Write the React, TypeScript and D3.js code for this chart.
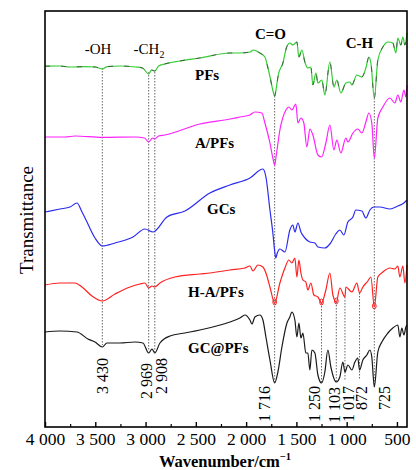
import React, { useEffect, useRef } from "react";
import * as d3 from "d3";

// [wavenumber (cm-1), transmittance (a.u., stacked)]
const pfs: [number, number][] = [
  [4000, 90.2], [3850, 90.25], [3750, 90], [3600, 90.1], [3500, 90], [3430, 89.5], [3380, 90.1],
  [3250, 90.25], [3100, 90], [3030, 89.75], [2969, 88.25], [2940, 89.25], [2908, 89], [2870, 90.25],
  [2810, 90.75], [2660, 91.5], [2460, 92.25], [2160, 93.5], [2060, 93.5], [1960, 93.75], [1930, 94.25],
  [1863, 93.5], [1813, 92.5], [1790, 90.5], [1760, 87.25], [1735, 84.25], [1716, 82.75], [1700, 84.75],
  [1680, 88], [1634, 91], [1600, 94.75], [1565, 96], [1535, 95.5], [1495, 96.25], [1475, 92.5],
  [1445, 94.25], [1416, 91.25], [1386, 89.75], [1356, 90], [1336, 85.5], [1306, 88.5], [1286, 86],
  [1247, 86.75], [1217, 83], [1167, 91.25], [1127, 85], [1098, 86.75], [1058, 83.5], [1008, 86],
  [968, 86.25], [948, 85.5], [899, 88], [849, 87.5], [809, 89.75], [779, 92.5], [759, 91],
  [725, 82.25], [690, 91.75], [640, 95], [590, 96.25], [541, 96], [511, 93.5], [491, 97.25],
  [461, 95.5], [441, 97.5], [421, 95.5], [400, 98.5],
];

const aPfs: [number, number][] = [
  [4000, 72.5], [3800, 72.5], [3700, 72.75], [3430, 72.4], [3100, 72.5], [3010, 72.25], [2969, 71.25],
  [2930, 72.25], [2908, 72], [2870, 72.75], [2810, 73], [2460, 75.75], [2160, 77], [2062, 77.5],
  [1962, 78], [1913, 78.75], [1843, 78.5], [1813, 76], [1763, 71], [1734, 67.25], [1716, 65.5],
  [1700, 68], [1664, 74.25], [1604, 79.25], [1575, 80], [1545, 79.25], [1505, 80.75], [1485, 76],
  [1455, 77.25], [1426, 76], [1396, 70], [1366, 74.5], [1336, 73], [1286, 68], [1250, 67.5],
  [1207, 71], [1167, 75.5], [1127, 69.25], [1098, 71.75], [1058, 68.5], [1008, 72.25], [988, 71.25],
  [938, 73.5], [889, 74.5], [849, 73.5], [809, 76.25], [779, 78.5], [750, 76], [725, 67.25],
  [690, 77.25], [640, 80], [570, 82.25], [521, 81], [491, 83], [461, 81.25], [431, 84.25],
  [411, 82.5], [400, 85.5],
];

const gcs: [number, number][] = [
  [4000, 53.75], [3851, 54.5], [3751, 55], [3682, 56], [3632, 53.75], [3592, 51.75], [3503, 47.25],
  [3430, 45.25], [3304, 46], [3125, 47.5], [3006, 49.5], [2926, 48.75], [2787, 52.5], [2608, 54],
  [2360, 58.5], [2161, 60.5], [1962, 62.25], [1833, 64.5], [1803, 62.5], [1763, 54.25], [1734, 48.5],
  [1716, 44], [1705, 42.25], [1690, 43.5], [1664, 44.5], [1614, 43.75], [1565, 49.25], [1535, 50.5],
  [1515, 48.75], [1485, 51], [1455, 48.75], [1416, 47.25], [1366, 46.25], [1316, 46], [1286, 45],
  [1217, 44.75], [1167, 45.75], [1108, 48.25], [1068, 49.25], [1028, 48], [988, 51.25], [938, 52.5],
  [909, 54.25], [849, 54], [809, 52.25], [769, 54.25], [730, 55], [670, 55], [570, 54.5],
  [491, 55.25], [431, 56], [400, 56.75],
];

const haPfs: [number, number][] = [
  [4000, 35.5], [3851, 36], [3702, 36], [3632, 35], [3533, 32.75], [3430, 31.5], [3304, 33.25],
  [3155, 35], [3056, 35.75], [3006, 36], [2969, 34.75], [2936, 35.25], [2908, 35], [2857, 36],
  [2708, 37.5], [2459, 38.25], [2360, 38.5], [2161, 39.25], [2012, 39.75], [1962, 40.25], [1932, 39],
  [1883, 40.5], [1833, 40], [1803, 38.5], [1763, 35], [1716, 31], [1664, 36], [1614, 39.75],
  [1575, 41.75], [1545, 41], [1515, 42.25], [1495, 37.5], [1475, 41.75], [1455, 38.5], [1435, 36.75],
  [1406, 36.25], [1386, 34.25], [1356, 36], [1326, 33], [1286, 32.5], [1250, 31], [1207, 34.25],
  [1167, 38.5], [1137, 33], [1103, 31.25], [1068, 34.75], [1017, 32.5], [1008, 35], [948, 33.75],
  [899, 36], [872, 33.5], [839, 35], [789, 36.5], [759, 37.5], [725, 30], [690, 37.5], [640, 38.75],
  [570, 39.75], [521, 39.5], [491, 40.25], [471, 37.5], [441, 40.25], [421, 36], [400, 40.5],
];

const gcPfs: [number, number][] = [
  [4000, 23.75], [3851, 24], [3682, 23.75], [3573, 22], [3503, 21.25], [3430, 20], [3384, 21],
  [3255, 21], [3105, 21.25], [3026, 21], [2969, 18.5], [2936, 19.5], [2908, 18.5], [2857, 21],
  [2757, 22.75], [2608, 23.5], [2459, 24.25], [2161, 26.25], [2062, 27.25], [2012, 28], [1962, 26.75],
  [1942, 25.75], [1913, 27.5], [1863, 28], [1833, 26.75], [1803, 22.5], [1763, 16.75], [1716, 11],
  [1684, 13.75], [1644, 20], [1594, 26], [1565, 27.5], [1545, 28.75], [1515, 26.75], [1495, 22.5],
  [1475, 26], [1455, 22.25], [1435, 23.5], [1406, 18.5], [1386, 18.5], [1366, 14.25], [1346, 19.25],
  [1316, 18.5], [1286, 13], [1250, 11], [1217, 13.75], [1187, 19.25], [1157, 15], [1103, 11.25],
  [1068, 12.5], [1038, 16.25], [1017, 13.75], [988, 15.5], [948, 14.25], [918, 16.25], [889, 17.25],
  [872, 14.25], [839, 16.75], [799, 18], [769, 19.25], [750, 17.5], [725, 10], [690, 18.75],
  [650, 21.25], [590, 23.5], [541, 24.75], [491, 25.5], [471, 22.5], [451, 24.75], [431, 23],
  [411, 25], [400, 25.5],
];

const wnTicks = [4000, 3500, 3000, 2500, 2000, 1500, 1000, 500];
const wnMinorTicks = [3750, 3250, 2750, 2250, 1750, 1250, 750];

// marked peaks and the span of the dotted guide (transmittance units)
const peaks = [3430, 2969, 2908, 1716, 1250, 1103, 1017, 872, 725];
const guideTop = [89.75, 88.75, 88.75, 82.75, 31, 31.25, 32.5, 33.5, 82.25];
const guideBottom = [20.5, 19.25, 18.5, 11, 11, 11.25, 11.75, 12, 10];
const circledPeaks = [1716, 1250, 1103, 725];

const groupLabels = ["-OH", "-CH", "C=O", "C-H"];
const sampleNames = ["PFs", "A/PFs", "GCs", "H-A/PFs", "GC@PFs"];

const fmt = (d: number) =>
  d >= 1000 ? `${Math.floor(d / 1000)} ${String(d % 1000).padStart(3, "0")}` : `${d}`;

export default function App() {
  const ref = useRef<SVGSVGElement>(null);

  useEffect(() => {
    document.body.style.margin = "0";
    const width = 416, height = 470;
    const margin = { top: 11, left: 45, right: 9, bottom: 43 };
    const svg = d3.select(ref.current);
    svg.selectAll("*").remove();

    const x = d3.scaleLinear().domain([4000, 400]).range([margin.left, width - margin.right]);
    const y = d3.scaleLinear().domain([0, 104]).range([height - margin.bottom, margin.top]);
    const serif = "'Liberation Serif', 'Times New Roman', serif";

    // dotted guides
    peaks.forEach((p, i) => {
      svg.append("line")
        .attr("x1", x(p)).attr("x2", x(p))
        .attr("y1", y(guideTop[i])).attr("y2", y(guideBottom[i]))
        .attr("stroke", "#555").attr("stroke-width", 0.9)
        .attr("stroke-dasharray", "1.5,1.5");
    });

    const line = d3.line<[number, number]>()
      .x(d => x(d[0])).y(d => y(d[1]))
      .curve(d3.curveMonotoneX);

    const traces = [
      { data: pfs, color: "#33cc33" },
      { data: aPfs, color: "#ff22ff" },
      { data: gcs, color: "#2b2bef" },
      { data: haPfs, color: "#ff2020" },
      { data: gcPfs, color: "#1a1a1a" },
    ];
    traces.forEach(t => {
      svg.append("path").attr("d", line(t.data)).attr("fill", "none")
        .attr("stroke", t.color).attr("stroke-width", 1.2);
    });
    // grey overlay on PFs
    svg.append("path").attr("d", line(pfs)).attr("fill", "none")
      .attr("stroke", "#444").attr("stroke-width", 1)
      .attr("stroke-dasharray", "5,11").attr("opacity", 0.8);

    // red circles on H-A/PFs
    circledPeaks.forEach(p => {
      const pt = haPfs.find(d => d[0] === p)!;
      svg.append("ellipse")
        .attr("cx", x(p)).attr("cy", y(pt[1]) - 1)
        .attr("rx", 1.8).attr("ry", 3)
        .attr("fill", "none").attr("stroke", "#ff2020").attr("stroke-width", 1);
    });

    // frame
    svg.append("rect")
      .attr("x", margin.left).attr("y", margin.top)
      .attr("width", width - margin.left - margin.right)
      .attr("height", height - margin.top - margin.bottom)
      .attr("fill", "none").attr("stroke", "#000").attr("stroke-width", 1.6);

    svg.append("g")
      .attr("transform", `translate(0,${height - margin.bottom})`)
      .call(d3.axisBottom(x).tickValues(wnTicks).tickSize(-5).tickFormat(d => fmt(+d)))
      .call(g => g.select(".domain").remove())
      .call(g => g.selectAll(".tick line").attr("stroke-width", 1.4))
      .call(g => g.selectAll(".tick text")
        .attr("y", 18).attr("dy", 0)
        .attr("font-size", 17.5).attr("font-family", serif).attr("fill", "#000"));
    svg.append("g")
      .attr("transform", `translate(0,${height - margin.bottom})`)
      .call(d3.axisBottom(x).tickValues(wnMinorTicks).tickSize(-3).tickFormat(() => ""))
      .call(g => g.select(".domain").remove())
      .call(g => g.selectAll(".tick line").attr("stroke-width", 1.2));

    // axis titles
    const xt = svg.append("text")
      .attr("x", 225).attr("y", 467)
      .attr("text-anchor", "middle").attr("font-family", serif)
      .attr("font-size", 16.5).attr("font-weight", "bold").text("Wavenumber/cm");
    xt.append("tspan").attr("dy", -7).attr("font-size", 10.5).text("−1");

    svg.append("text")
      .attr("transform", "translate(33,220) rotate(-90)")
      .attr("text-anchor", "middle").attr("font-family", serif)
      .attr("font-size", 19).text("Transmittance");

    // group labels
    const gl = [
      { x: 98, y: 54 }, { x: 149, y: 54 }, { x: 270.5, y: 39 }, { x: 359.5, y: 48 },
    ];
    groupLabels.forEach((t, i) => {
      const txt = svg.append("text")
        .attr("x", gl[i].x).attr("y", gl[i].y)
        .attr("text-anchor", "middle").attr("font-family", serif)
        .attr("font-size", 15).attr("font-weight", i >= 2 ? "bold" : "normal").text(t);
      if (t === "-CH") txt.append("tspan").attr("dy", 4).attr("font-size", 10).text("2");
    });

    // sample labels
    const sl = [
      { x: 195, y: 80 }, { x: 195, y: 148 }, { x: 207, y: 214 }, { x: 188, y: 297 }, { x: 188, y: 353 },
    ];
    sampleNames.forEach((t, i) => {
      svg.append("text")
        .attr("x", sl[i].x).attr("y", sl[i].y)
        .attr("font-family", serif).attr("font-size", 15).attr("font-weight", "bold").text(t);
    });

    // peak numbers (rotated)
    const dx = [6, 3.5, 12, -5, -2, 3.5, 9, 7, 16];
    const topY = [358, 363, 358, 386, 386, 387, 386, 386, 386];
    peaks.forEach((p, i) => {
      svg.append("text")
        .attr("transform", `translate(${x(p) + dx[i]},${topY[i]}) rotate(-90)`)
        .attr("text-anchor", "end").attr("font-family", serif)
        .attr("font-size", 16).text(fmt(p));
    });
  }, []);

  return <svg ref={ref} width={416} height={470} style={{ display: "block", background: "#fff" }} />;
}
